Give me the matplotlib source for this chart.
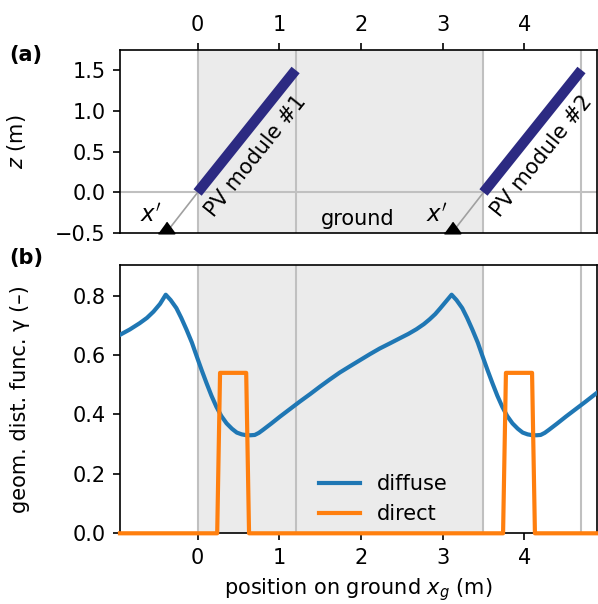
import numpy as np
import matplotlib
matplotlib.use("Agg")
import matplotlib.pyplot as plt

plt.rcParams['font.family'] = ['DejaVu Sans']
plt.rcParams['font.size'] = 10

# ---------------- data ----------------
pitch = 3.5
module_dx = 1.2
module_dz = 1.5
x_prime = [-0.39, 3.11]
module_starts = [0.0, 3.5]
module_labels = ["PV module #1", "PV module #2"]

diffuse_x = [-0.95, -0.83, -0.71, -0.62, -0.54, -0.46, -0.39,
             -0.33, -0.26, -0.20, -0.135, -0.07, -0.01, 0.05, 0.11, 0.17,
             0.23, 0.29, 0.355, 0.42, 0.48, 0.54, 0.60, 0.65, 0.70, 0.75,
             0.80, 0.90, 1.01, 1.13, 1.25, 1.38, 1.50, 1.62, 1.74, 1.87,
             1.99, 2.11, 2.23, 2.36, 2.48, 2.58, 2.68, 2.77, 2.84, 2.91,
             2.97, 3.04, 3.11,
             3.17, 3.24, 3.30, 3.365, 3.43, 3.49, 3.55, 3.61, 3.67,
             3.73, 3.79, 3.855, 3.92, 3.98, 4.04, 4.10, 4.15, 4.20, 4.25,
             4.30, 4.40, 4.51, 4.63, 4.75, 4.89]
diffuse_y = [0.668, 0.686, 0.707, 0.725, 0.746, 0.772, 0.803,
             0.785, 0.758, 0.725, 0.685, 0.642, 0.595, 0.549, 0.505, 0.463,
             0.426, 0.395, 0.370, 0.352, 0.339, 0.333, 0.330, 0.330, 0.331, 0.338,
             0.348, 0.369, 0.393, 0.418, 0.443, 0.469, 0.494, 0.518, 0.541, 0.563,
             0.583, 0.603, 0.622, 0.640, 0.657, 0.671, 0.687, 0.704, 0.720, 0.738,
             0.757, 0.780, 0.803,
             0.785, 0.758, 0.725, 0.685, 0.642, 0.595, 0.549, 0.505, 0.463,
             0.426, 0.395, 0.370, 0.352, 0.339, 0.333, 0.330, 0.330, 0.331, 0.338,
             0.348, 0.369, 0.393, 0.418, 0.443, 0.473]

direct_x = [-0.95, 0.24, 0.275, 0.595, 0.63, 3.74, 3.775, 4.095, 4.13, 4.89]
direct_y = [0.0, 0.0, 0.54, 0.54, 0.0, 0.0, 0.54, 0.54, 0.0, 0.0]

xticks = [0, 1, 2, 3, 4]
zticks = [-0.5, 0.0, 0.5, 1.0, 1.5]
gticks = [0.0, 0.2, 0.4, 0.6, 0.8]

xlim = (-0.95, 4.89)

# ---------------- figure ----------------
W, H = 598, 604
fig = plt.figure(figsize=(W / 150, H / 150), dpi=150)
L = 120 / W
R = 597 / W
ax1 = fig.add_axes([L, 1 - 233.3 / H, R - L, (233.3 - 50) / H])
ax2 = fig.add_axes([L, 1 - 533.3 / H, R - L, (533.3 - 265) / H])

shade = '#ebebeb'
vline_c = '#c0c0c0'
navy = '#2c2a82'

for ax in (ax1, ax2):
    ax.axvspan(module_starts[0], module_starts[0] + pitch, color=shade, zorder=0, lw=0)
    for s in module_starts:
        ax.axvline(s, color=vline_c, lw=1, zorder=1)
        ax.axvline(s + module_dx, color=vline_c, lw=1, zorder=1)
    ax.set_xlim(*xlim)
    ax.set_xticks(xticks)

# ---- panel (a) ----
ax1.axhline(0, color=vline_c, lw=1, zorder=1)
for s, xp, lab in zip(module_starts, x_prime, module_labels):
    ax1.plot([xp, s], [-0.5, 0.0], color='#a0a0a0', lw=0.8, zorder=2)
    ax1.plot([s, s + module_dx], [0, module_dz], color=navy, lw=5,
             solid_capstyle='butt', zorder=3)
    ang = np.degrees(np.arctan2(module_dz, module_dx))
    ax1.text(s + 0.71, 0.45, lab, rotation=ang, rotation_mode='anchor',
             ha='center', va='center', fontsize=10, zorder=4)
    ax1.plot([xp], [-0.5], marker=[(-0.73, 0), (0.73, 0), (0, 1)],
             markersize=10.6, color='black', lw=0, clip_on=False, zorder=5)
    ax1.text(xp - 0.055, -0.375, r"$x'$", ha='right', va='baseline', fontsize=11)
ax1.text(1.965, -0.395, "ground", ha='center', va='baseline', fontsize=10)

ax1.set_ylim(-0.5, 1.745)
ax1.set_yticks(zticks)
ax1.xaxis.tick_top()
ax1.set_ylabel(r"$z$ (m)")

# ---- panel (b) ----
ax2.plot(diffuse_x, diffuse_y, color='#1f77b4', lw=2, label='diffuse', zorder=3)
ax2.plot(direct_x, direct_y, color='#ff7f0e', lw=2, label='direct', zorder=3,
         clip_on=False)
ax2.set_ylim(0, 0.903)
ax2.set_yticks(gticks)
ax2.set_ylabel("geom. dist. func. γ (–)")
ax2.set_xlabel(r"position on ground $x_g$ (m)")
ax2.legend(loc='lower center', bbox_to_anchor=(0.552, -0.037), frameon=False)

fig.text(9 / W, 1 - 55 / H, "(a)", fontweight='bold', ha='left', va='center')
fig.text(9 / W, 1 - 258 / H, "(b)", fontweight='bold', ha='left', va='center')

ax1.yaxis.set_label_coords(-0.193, 0.5)
ax2.yaxis.set_label_coords(-0.189, 0.5)

fig.savefig('out.png', dpi=150)
